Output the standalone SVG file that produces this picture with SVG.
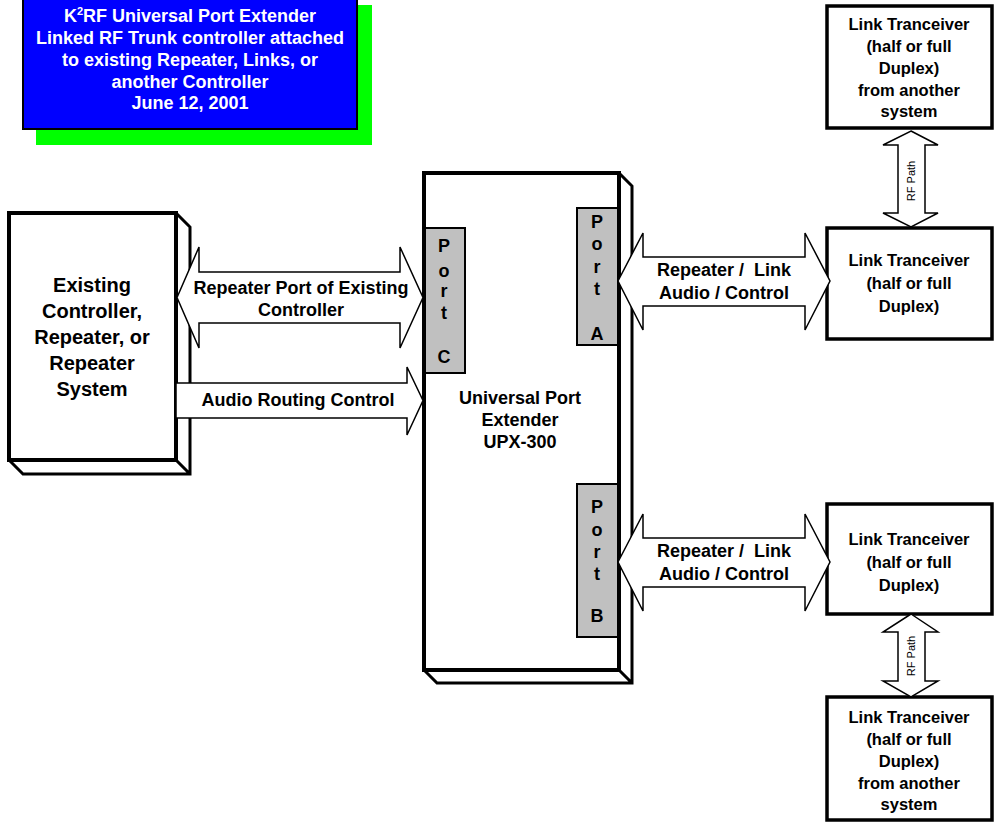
<svg xmlns="http://www.w3.org/2000/svg" width="994" height="824" viewBox="0 0 994 824">
<style>
text{font-family:"Liberation Sans",Arial,sans-serif;font-weight:bold;fill:#000;text-anchor:middle;white-space:pre}
.t{font-size:18px}
.title{font-size:18px;fill:#fff}
.big{font-size:20px}
.lk{font-size:16.5px}
.rf{font-size:11px;font-weight:normal}
.box{fill:#fff;stroke:#000;stroke-width:4;stroke-linejoin:miter}
.ext{fill:#fff;stroke:#000;stroke-width:3}
.port{fill:#c0c0c0;stroke:#000;stroke-width:2}
.arr{fill:#fff;stroke:#000;stroke-width:1.5;stroke-linejoin:miter}
.lbox{fill:#fff;stroke:#000;stroke-width:3.5}
</style>
<rect width="994" height="824" fill="#fff"/>
<g id="title">
<rect x="36" y="5" width="336" height="140" fill="#00ff00"/>
<rect x="23" y="-5" width="334" height="134" fill="#0000ff" stroke="#000" stroke-width="2"/>
<text class="title" x="190" y="22">K<tspan font-size="11" dy="-7">2</tspan><tspan dy="7">RF Universal Port Extender</tspan></text>
<text class="title" x="190" y="44">Linked RF Trunk controller attached</text>
<text class="title" x="190" y="66">to existing Repeater, Links, or</text>
<text class="title" x="190" y="88">another Controller</text>
<text class="title" x="190" y="109">June 12, 2001</text>
</g>
<g id="existing">
<path class="ext" d="M176,213 L190,227 L190,474 L23,474 L9,460 M176,460 L190,474"/>
<rect class="box" x="9" y="213" width="167" height="247"/>
<text class="big" x="92" y="292">Existing</text>
<text class="big" x="92" y="318">Controller,</text>
<text class="big" x="92" y="344">Repeater, or</text>
<text class="big" x="92" y="370">Repeater</text>
<text class="big" x="92" y="396">System</text>
</g>
<g id="upx">
<path class="ext" d="M619,173 L632,186 L632,683 L437,683 L424,670 M619,670 L632,683"/>
<rect class="box" x="424" y="173" width="195" height="497"/>
<text class="t" x="520" y="404">Universal Port</text>
<text class="t" x="520" y="426">Extender</text>
<text class="t" x="520" y="448">UPX-300</text>
</g>
<g id="portC">
<rect class="port" x="425" y="228" width="40" height="145"/>
<text class="t" x="444" y="252">P</text>
<text class="t" x="444" y="277">o</text>
<text class="t" x="444" y="297">r</text>
<text class="t" x="444" y="319">t</text>
<text class="t" x="444" y="363">C</text>
</g>
<g id="portA">
<rect class="port" x="577" y="208" width="41" height="137"/>
<text class="t" x="597" y="228">P</text>
<text class="t" x="597" y="250">o</text>
<text class="t" x="597" y="273">r</text>
<text class="t" x="597" y="295">t</text>
<text class="t" x="597" y="340">A</text>
</g>
<g id="portB">
<rect class="port" x="577" y="484" width="41" height="153"/>
<text class="t" x="597" y="513">P</text>
<text class="t" x="597" y="536">o</text>
<text class="t" x="597" y="558">r</text>
<text class="t" x="597" y="580">t</text>
<text class="t" x="597" y="622">B</text>
</g>
<g id="link1">
<rect class="lbox" x="827" y="6" width="165" height="122"/>
<text class="lk" x="909" y="30">Link Tranceiver</text>
<text class="lk" x="909" y="52">(half or full</text>
<text class="lk" x="909" y="74">Duplex)</text>
<text class="lk" x="909" y="96">from another</text>
<text class="lk" x="909" y="117">system</text>
</g>
<g id="link2">
<rect class="lbox" x="827" y="228" width="165" height="111"/>
<text class="lk" x="909" y="266">Link Tranceiver</text>
<text class="lk" x="909" y="289">(half or full</text>
<text class="lk" x="909" y="312">Duplex)</text>
</g>
<g id="link3">
<rect class="lbox" x="827" y="504" width="165" height="110"/>
<text class="lk" x="909" y="545">Link Tranceiver</text>
<text class="lk" x="909" y="568">(half or full</text>
<text class="lk" x="909" y="591">Duplex)</text>
</g>
<g id="link4">
<rect class="lbox" x="827" y="697" width="165" height="123"/>
<text class="lk" x="909" y="723">Link Tranceiver</text>
<text class="lk" x="909" y="745">(half or full</text>
<text class="lk" x="909" y="767">Duplex)</text>
<text class="lk" x="909" y="789">from another</text>
<text class="lk" x="909" y="810">system</text>
</g>
<g id="connectors">
<polygon class="arr" points="177,297.5 199,247 199,272 400,272 400,247 423,297.5 400,348 400,323 199,323 199,348"/>
<text class="t" x="301" y="294">Repeater Port of Existing</text>
<text class="t" x="301" y="316">Controller</text>
<polygon class="arr" points="176,383 407,383 407,367 423,400.5 407,435 407,418 176,418"/>
<text class="t" x="298" y="406">Audio Routing Control</text>
<polygon class="arr" points="618,281 643,233 643,257 805,257 805,233 830,281 805,330 805,306 643,306 643,330"/>
<text class="t" x="724" y="276" xml:space="preserve">Repeater /  Link</text>
<text class="t" x="724" y="299">Audio / Control</text>
<polygon class="arr" points="618,562 643,514 643,538 805,538 805,514 830,562 805,611 805,587 643,587 643,611"/>
<text class="t" x="724" y="557" xml:space="preserve">Repeater /  Link</text>
<text class="t" x="724" y="580">Audio / Control</text>
<polygon class="arr" points="911,131 938,145 925,145 925,213 938,213 911,227 883,213 898,213 898,145 883,145"/>
<text class="rf" transform="translate(915,181) rotate(-90)">RF Path</text>
<polygon class="arr" points="911,614 938,632 925,632 925,681 938,681 911,697 883,681 898,681 898,632 883,632"/>
<text class="rf" transform="translate(915,656) rotate(-90)">RF Path</text>
</g>
</svg>
